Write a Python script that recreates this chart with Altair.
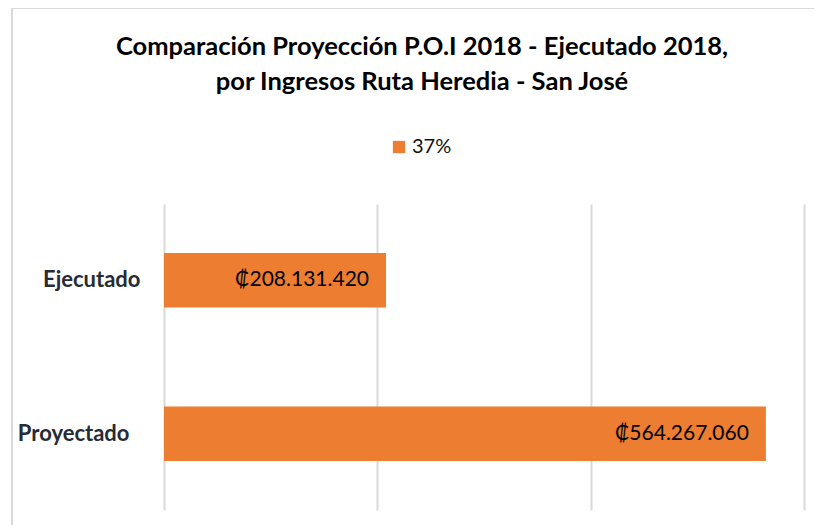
import altair as alt
import pandas as pd

categories = ["Ejecutado", "Proyectado"]
values = [208131420, 564267060]
series_name = "37%"
grid_values = [0, 200000000, 400000000, 600000000]
title_lines = ["Comparación Proyección P.O.I 2018 - Ejecutado 2018,",
               "por Ingresos Ruta Heredia - San José"]

df = pd.DataFrame({
    "cat": categories,
    "val": values,
    "serie": [series_name] * len(categories),
})
df["label"] = ["₡" + f"{v:,}".replace(",", ".") for v in values]

ORANGE = "#ed7d31"
FONT = "Lato"

x_enc = alt.X("val:Q",
              scale=alt.Scale(domain=[0, 600000000], nice=False),
              axis=alt.Axis(values=grid_values, labels=False, ticks=False,
                            domain=False, title=None, grid=True,
                            gridColor="#d9d9d9", gridWidth=2))
y_enc = alt.Y("cat:N", sort=categories,
              scale=alt.Scale(paddingInner=0.645, paddingOuter=0.32),
              axis=alt.Axis(title=None, ticks=False, domain=False, grid=False,
                            labelFont=FONT, labelFontSize=22, labelFontWeight="bold",
                            labelColor="#262b35",
                            labelPadding=alt.ExprRef("datum.label == 'Proyectado' ? 35 : 24")))

bars = alt.Chart(df).mark_bar(color=ORANGE).encode(
    x=x_enc,
    y=y_enc,
    color=alt.Color("serie:N",
                    scale=alt.Scale(range=[ORANGE]),
                    legend=alt.Legend(title=None, orient="none", legendX=225, legendY=-67,
                                      symbolType="square", symbolSize=150,
                                      symbolStrokeWidth=0,
                                      labelFont=FONT, labelFontSize=20, labelColor="#111111",
                                      labelOffset=3)),
)

texts = alt.Chart(df).mark_text(align="right", baseline="middle", dx=-17,
                                font=FONT, fontSize=21, color="#000000").encode(
    x="val:Q",
    y=alt.Y("cat:N", sort=categories),
    text="label:N",
)

frame_top = alt.Chart(df).mark_rule(color="#d9d9d9", strokeWidth=2).encode(
    x=alt.value(-152), x2=alt.value(700), y=alt.value(-196))
frame_left = alt.Chart(df).mark_rule(color="#d9d9d9", strokeWidth=2).encode(
    x=alt.value(-152), y=alt.value(-196), y2=alt.value(400))

chart = alt.layer(frame_top, frame_left, bars, texts).properties(
    width=640, height=306,
    autosize=alt.AutoSizeParams(type="none"),
    padding={"left": 156, "top": 196, "right": 10, "bottom": 15},
    title=alt.TitleParams(text=title_lines, anchor="middle", frame="group",
                          dx=-62, offset=-88, font=FONT, fontSize=25.5,
                          fontWeight="bold", color="#000000", lineHeight=35),
).configure_view(stroke=None)

chart.save("out.html", embed_options={"renderer": "svg", "actions": False})
